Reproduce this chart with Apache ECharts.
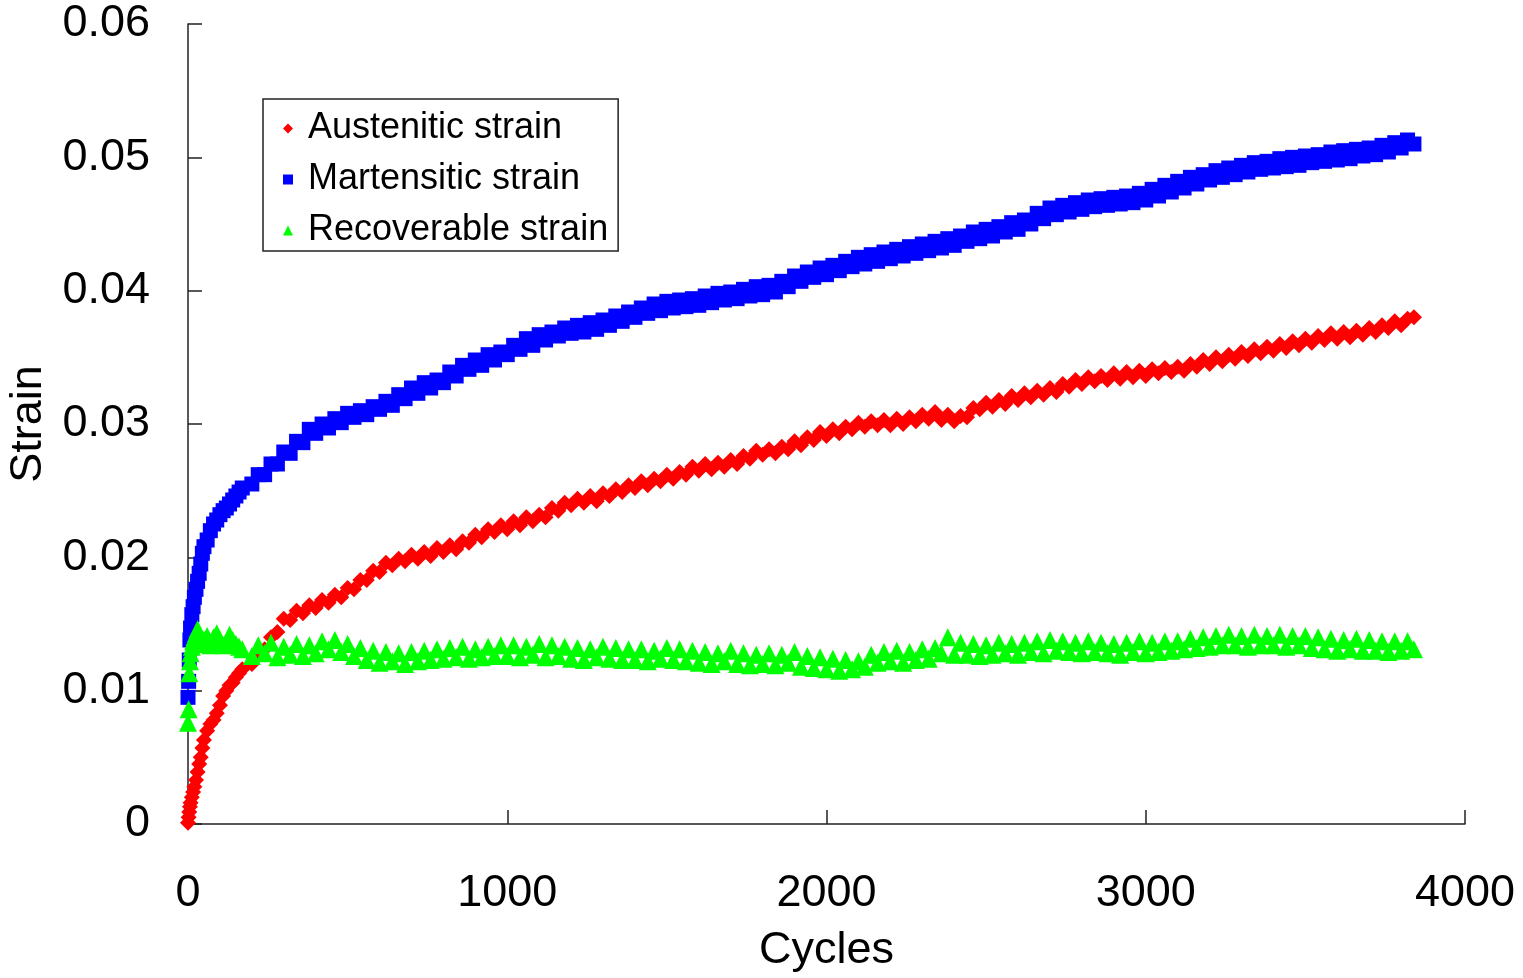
<!DOCTYPE html>
<html>
<head>
<meta charset="utf-8">
<script src="https://cdn.jsdelivr.net/npm/echarts@6/dist/echarts.min.js"></script>
<style>
  html, body { margin: 0; padding: 0; background: #fff; }
  #main { width: 1523px; height: 978px; }
</style>
</head>
<body>
<div id="main"></div>
<script>
// cycle numbers shared by the three series
var cycles = [
  0, 2, 4, 6, 8, 12, 16, 20, 25, 30, 35, 40, 45, 50, 60, 70, 80, 90, 100, 110, 120, 130, 140, 150, 160, 170,
  200, 220, 240, 260, 280, 300, 320, 340, 360, 380,
  400, 420, 440, 460, 480, 500, 520, 540, 560, 580,
  600, 620, 640, 660, 680, 700, 720, 740, 760, 780,
  800, 820, 840, 860, 880, 900, 920, 940, 960, 980,
  1000, 1020, 1040, 1060, 1080, 1100, 1120, 1140, 1160, 1180,
  1200, 1220, 1240, 1260, 1280, 1300, 1320, 1340, 1360, 1380,
  1400, 1420, 1440, 1460, 1480, 1500, 1520, 1540, 1560, 1580,
  1600, 1620, 1640, 1660, 1680, 1700, 1720, 1740, 1760, 1780,
  1800, 1820, 1840, 1860, 1880, 1900, 1920, 1940, 1960, 1980,
  2000, 2020, 2040, 2060, 2080, 2100, 2120, 2140, 2160, 2180,
  2200, 2220, 2240, 2260, 2280, 2300, 2320, 2340, 2360, 2380,
  2400, 2420, 2440, 2460, 2480, 2500, 2520, 2540, 2560, 2580,
  2600, 2620, 2640, 2660, 2680, 2700, 2720, 2740, 2760, 2780,
  2800, 2820, 2840, 2860, 2880, 2900, 2920, 2940, 2960, 2980,
  3000, 3020, 3040, 3060, 3080, 3100, 3120, 3140, 3160, 3180,
  3200, 3220, 3240, 3260, 3280, 3300, 3320, 3340, 3360, 3380,
  3400, 3420, 3440, 3460, 3480, 3500, 3520, 3540, 3560, 3580,
  3600, 3620, 3640, 3660, 3680, 3700, 3720, 3740, 3760, 3780,
  3800, 3820, 3840
];

var austenitic = [
  0.0001, 0.0005, 0.0009, 0.0013, 0.0016, 0.0020, 0.0024, 0.0028, 0.0033, 0.0039, 0.0045, 0.0050, 0.0057, 0.0063, 0.0070, 0.0075, 0.0078, 0.0083, 0.0089, 0.0096, 0.0100, 0.0104, 0.0106, 0.0110, 0.0113, 0.0116,
  .0120, .0128, .0131, .0140, .0144, .0154, .0153, .0160, .0158, .0164,
  .0162, .0168, .0166, .0172, .0170, .0177, .0176, .0183, .0183, .0190,
  .0189, .0196, .0194, .0199, .0197, .0202, .0199, .0204, .0201, .0207,
  .0204, .0209, .0206, .0212, .0211, .0217, .0215, .0221, .0219, .0224,
  .0221, .0227, .0224, .0230, .0227, .0232, .0230, .0237, .0235, .0241,
  .0239, .0244, .0241, .0246, .0242, .0248, .0246, .0251, .0249, .0254,
  .0252, .0257, .0254, .0259, .0257, .0262, .0259, .0264, .0262, .0268,
  .0265, .0270, .0266, .0271, .0268, .0273, .0270, .0276, .0274, .0280,
  .0277, .0281, .0278, .0283, .0281, .0287, .0284, .0290, .0288, .0294,
  .0291, .0296, .0293, .0298, .0296, .0301, .0298, .0302, .0299, .0303,
  .0299, .0304, .0300, .0305, .0302, .0307, .0304, .0309, .0303, .0307,
  .0302, .0306, .0305, .0312, .0311, .0316, .0313, .0318, .0315, .0321,
  .0318, .0323, .0320, .0325, .0322, .0327, .0324, .0330, .0328, .0333,
  .0330, .0335, .0332, .0336, .0333, .0338, .0334, .0339, .0335, .0340,
  .0336, .0341, .0338, .0342, .0339, .0343, .0340, .0345, .0343, .0348,
  .0345, .0350, .0347, .0352, .0349, .0354, .0351, .0356, .0353, .0358,
  .0355, .0360, .0357, .0362, .0359, .0364, .0361, .0366, .0363, .0368,
  .0364, .0369, .0365, .0370, .0367, .0372, .0369, .0374, .0372, .0377,
  .0374, .0379, .0380
];

var martensitic = [
  0.0095, 0.0107, 0.0123, 0.0138, 0.0147, 0.0157, 0.0163, 0.0170, 0.0176, 0.0182, 0.0188, 0.0195, 0.0203, 0.0208, 0.0213, 0.0220, 0.0225, 0.0228, 0.0232, 0.0235, 0.0237, 0.0240, 0.0243, 0.0246, 0.0249, 0.0252,
  .0255, .0262, .0262, .0270, .0270, .0279, .0278, .0287, .0286, .0296,
  .0293, .0300, .0297, .0304, .0301, .0308, .0305, .0310, .0307, .0313,
  .0311, .0317, .0314, .0322, .0319, .0327, .0323, .0331, .0327, .0333,
  .0331, .0339, .0336, .0344, .0341, .0348, .0344, .0352, .0348, .0354,
  .0352, .0359, .0356, .0364, .0359, .0367, .0363, .0369, .0366, .0372,
  .0368, .0374, .0369, .0376, .0371, .0378, .0374, .0381, .0377, .0384,
  .0380, .0387, .0383, .0390, .0385, .0392, .0387, .0393, .0388, .0394,
  .0389, .0396, .0391, .0398, .0393, .0399, .0394, .0401, .0396, .0403,
  .0397, .0404, .0399, .0407, .0403, .0411, .0407, .0414, .0410, .0417,
  .0412, .0419, .0415, .0422, .0418, .0425, .0420, .0427, .0422, .0429,
  .0424, .0431, .0426, .0433, .0428, .0435, .0430, .0437, .0432, .0439,
  .0434, .0441, .0437, .0444, .0439, .0446, .0441, .0448, .0444, .0451,
  .0446, .0453, .0450, .0458, .0454, .0462, .0457, .0464, .0459, .0466,
  .0461, .0468, .0463, .0469, .0464, .0470, .0465, .0471, .0466, .0473,
  .0468, .0476, .0471, .0479, .0474, .0482, .0477, .0485, .0480, .0487,
  .0483, .0490, .0485, .0492, .0487, .0494, .0489, .0496, .0491, .0497,
  .0492, .0499, .0493, .0500, .0494, .0501, .0496, .0502, .0497, .0504,
  .0498, .0505, .0499, .0506, .0501, .0507, .0502, .0509, .0504, .0511,
  .0507, .0513, .0510
];

var recoverable = [
  0.0076, 0.0086, 0.0113, 0.0122, 0.0128, 0.0133, 0.0137, 0.0140, 0.0143, 0.0146, 0.0141, 0.0137, 0.0135, 0.0138, 0.0141, 0.0134, 0.0140, 0.0143, 0.0138, 0.0134, 0.0136, 0.0142, 0.0138, 0.0135, 0.0133, 0.0131,
  .0126, .0134, .0128, .0136, .0125, .0133, .0127, .0135, .0126, .0134,
  .0128, .0137, .0131, .0138, .0129, .0135, .0126, .0132, .0123, .0130,
  .0121, .0129, .0122, .0128, .0120, .0129, .0122, .0130, .0123, .0131,
  .0124, .0132, .0125, .0133, .0124, .0131, .0125, .0133, .0126, .0134,
  .0126, .0134, .0125, .0133, .0127, .0135, .0125, .0134, .0126, .0133,
  .0124, .0132, .0123, .0131, .0125, .0133, .0124, .0132, .0123, .0131,
  .0123, .0131, .0122, .0130, .0124, .0132, .0123, .0131, .0122, .0130,
  .0121, .0129, .0120, .0128, .0122, .0130, .0120, .0128, .0119, .0127,
  .0120, .0128, .0119, .0127, .0121, .0129, .0118, .0126, .0117, .0125,
  .0116, .0124, .0115, .0123, .0116, .0122, .0118, .0127, .0121, .0129,
  .0122, .0130, .0121, .0129, .0123, .0131, .0124, .0132, .0128, .0140,
  .0127, .0136, .0127, .0135, .0126, .0134, .0127, .0136, .0128, .0135,
  .0127, .0136, .0129, .0137, .0128, .0138, .0130, .0137, .0129, .0136,
  .0128, .0137, .0129, .0136, .0128, .0135, .0127, .0136, .0129, .0137,
  .0128, .0136, .0129, .0137, .0130, .0137, .0131, .0139, .0132, .0140,
  .0133, .0141, .0134, .0142, .0134, .0141, .0133, .0142, .0134, .0141,
  .0134, .0142, .0133, .0141, .0134, .0141, .0132, .0140, .0131, .0139,
  .0130, .0138, .0131, .0139, .0130, .0138, .0130, .0137, .0129, .0137,
  .0130, .0137, .0131
];

var seriesNames = ['Austenitic strain', 'Martensitic strain', 'Recoverable strain'];

function pairs(values) {
  return cycles.map(function (c, i) { return [c, values[i]]; });
}

var FONT = "'Liberation Sans', Arial, sans-serif";
var chart = echarts.init(document.getElementById('main'), null, { renderer: 'canvas' });

var option = {
  animation: false,
  backgroundColor: '#fff',
  textStyle: { fontFamily: FONT },
  grid: { left: 188, right: 58, top: 24, bottom: 154, containLabel: false, outerBoundsMode: 'none' },
  legend: {
    orient: 'vertical',
    left: 263,
    top: 99,
    padding: [10, 10, 1, 20],
    itemGap: 12,
    itemWidth: 10,
    itemHeight: 10,
    borderColor: '#222',
    borderWidth: 1.5,
    borderRadius: 0,
    backgroundColor: '#fff',
    textStyle: { fontFamily: FONT, fontSize: 36, color: '#000', lineHeight: 39, padding: [0, 0, 0, 10] },
    data: [
      { name: seriesNames[0], icon: 'diamond' },
      { name: seriesNames[1], icon: 'rect' },
      { name: seriesNames[2], icon: 'triangle' }
    ]
  },
  xAxis: {
    type: 'value',
    min: 0,
    max: 4000,
    interval: 1000,
    name: 'Cycles',
    nameLocation: 'middle',
    nameGap: 104,
    nameTextStyle: { fontFamily: FONT, fontSize: 45, color: '#000' },
    axisLine: { lineStyle: { color: '#222', width: 1.5 } },
    axisTick: { inside: true, length: 14, lineStyle: { color: '#222', width: 1.5 } },
    axisLabel: {
      margin: 47, fontFamily: FONT, fontSize: 45, color: '#000',
      formatter: function (v) { return String(v); }
    },
    splitLine: { show: false }
  },
  yAxis: {
    type: 'value',
    min: 0,
    max: 0.06,
    interval: 0.01,
    name: 'Strain',
    nameLocation: 'middle',
    nameGap: 130,
    nameTextStyle: { fontFamily: FONT, fontSize: 45, color: '#000' },
    axisLine: { show: true, lineStyle: { color: '#222', width: 1.5 } },
    axisTick: { show: true, inside: true, length: 14, lineStyle: { color: '#222', width: 1.5 } },
    axisLabel: {
      margin: 38, fontFamily: FONT, fontSize: 45, color: '#000',
      formatter: function (v) { return v === 0 ? '0' : v.toFixed(2); }
    },
    splitLine: { show: false }
  },
  series: [
    {
      name: seriesNames[0], type: 'scatter', symbol: 'diamond', symbolSize: 16,
      itemStyle: { color: '#ff0000', opacity: 1 }, data: pairs(austenitic)
    },
    {
      name: seriesNames[1], type: 'scatter', symbol: 'rect', symbolSize: 15,
      itemStyle: { color: '#0000ff', opacity: 1 }, data: pairs(martensitic)
    },
    {
      name: seriesNames[2], type: 'scatter', symbol: 'triangle', symbolSize: 18,
      itemStyle: { color: '#00ff00', opacity: 1 }, data: pairs(recoverable)
    }
  ]
};

chart.setOption(option);
</script>
</body>
</html>
